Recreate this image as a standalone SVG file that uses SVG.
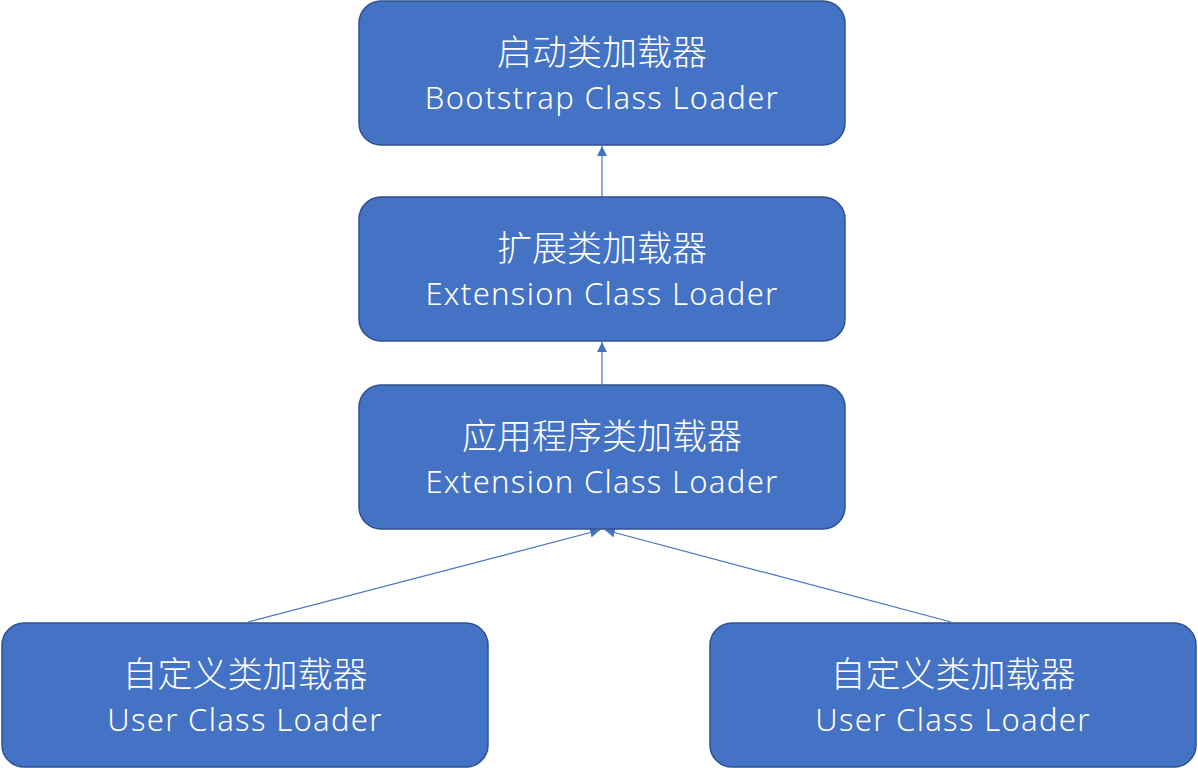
<svg xmlns="http://www.w3.org/2000/svg" width="1198" height="768" viewBox="0 0 1198 768">
<style>
.box{fill:#4472C4;stroke:#2F528F;stroke-width:1.5}
.t{fill:#fff;font-family:"Noto Sans","Noto Sans CJK SC",sans-serif;font-weight:300;text-anchor:middle}
.z{font-family:"Noto Sans CJK SC",sans-serif;font-size:35px}
.e{font-size:31px;letter-spacing:1.3px}
.c{stroke:#4472C4;stroke-width:1.2;fill:none;marker-end:url(#ah)}
</style>
<defs>
<marker id="ah" viewBox="0 0 10 10" refX="10" refY="5" markerWidth="10" markerHeight="10" markerUnits="userSpaceOnUse" orient="auto">
<path d="M0,0 L10,5 L0,10 z" fill="#4472C4"/>
</marker>
</defs>
<rect width="1198" height="768" fill="#fff"/>
<g id="connectors">
<line class="c" x1="602" y1="197" x2="602" y2="146"/>
<line class="c" x1="602" y1="385" x2="602" y2="342"/>
<line class="c" x1="248" y1="622" x2="600" y2="530"/>
<line class="c" x1="951" y1="622" x2="605" y2="530"/>
</g>
<g id="bootstrap">
<rect class="box" x="359" y="1" width="486" height="144" rx="22"/>
<text class="t z" x="602" y="65">启动类加载器</text>
<text class="t e" x="602" y="109">Bootstrap Class Loader</text>
</g>
<g id="extension">
<rect class="box" x="359" y="197" width="486" height="144" rx="22"/>
<text class="t z" x="602" y="261">扩展类加载器</text>
<text class="t e" x="602" y="305">Extension Class Loader</text>
</g>
<g id="application">
<rect class="box" x="359" y="385" width="486" height="144" rx="22"/>
<text class="t z" x="602" y="449">应用程序类加载器</text>
<text class="t e" x="602" y="493">Extension Class Loader</text>
</g>
<g id="user1">
<rect class="box" x="2" y="623" width="486" height="144" rx="22"/>
<text class="t z" x="245" y="687">自定义类加载器</text>
<text class="t e" x="245" y="731">User Class Loader</text>
</g>
<g id="user2">
<rect class="box" x="710" y="623" width="486" height="144" rx="22"/>
<text class="t z" x="953" y="687">自定义类加载器</text>
<text class="t e" x="953" y="731">User Class Loader</text>
</g>
</svg>
